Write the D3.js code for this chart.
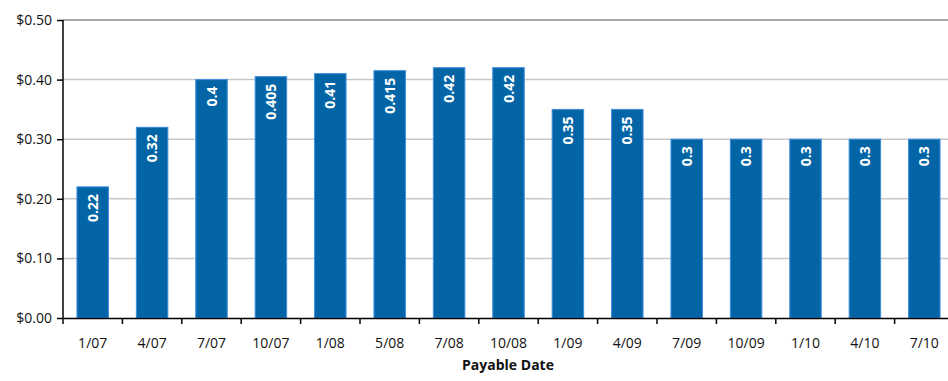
<!DOCTYPE html>
<html>
<head>
<meta charset="utf-8">
<script src="https://cdn.jsdelivr.net/npm/d3@7"></script>
<style>
  body { margin: 0; background: #fff; }
  svg { display: block; font-family: "Open Sans", "Noto Sans", sans-serif; }
</style>
</head>
<body>
<svg id="chart" width="948" height="381"></svg>
<script>
// payable dates and dividend per share
var dates = ["1/07", "4/07", "7/07", "10/07", "1/08", "5/08", "7/08", "10/08",
             "1/09", "4/09", "7/09", "10/09", "1/10", "4/10", "7/10"];
var dividends = [0.22, 0.32, 0.4, 0.405, 0.41, 0.415, 0.42, 0.42,
                 0.35, 0.35, 0.3, 0.3, 0.3, 0.3, 0.3];
var barLabels = ["0.22", "0.32", "0.4", "0.405", "0.41", "0.415", "0.42", "0.42",
                 "0.35", "0.35", "0.3", "0.3", "0.3", "0.3", "0.3"];
var yTicks = [0, 0.1, 0.2, 0.3, 0.4, 0.5];

var margin = {top: 20, left: 63},
    width = 891,
    height = 298;

var svg = d3.select("#chart")
    .append("g")
    .attr("transform", "translate(" + margin.left + "," + margin.top + ")");

var x = d3.scaleBand()
    .domain(dates)
    .range([0, width])
    .paddingInner(0.47)
    .paddingOuter(0.235);

var y = d3.scaleLinear()
    .domain([0, 0.5])
    .range([height, 0]);

// gridlines
svg.selectAll(".grid")
    .data(yTicks.slice(1))
    .enter().append("line")
    .attr("x1", 0)
    .attr("x2", width)
    .attr("y1", function(d) { return y(d); })
    .attr("y2", function(d) { return y(d); })
    .attr("stroke", function(d) { return d === 0.5 ? "#8c8c8c" : "#c8c8c8"; })
    .attr("stroke-width", 1.5);

// bars
svg.selectAll(".bar")
    .data(dividends)
    .enter().append("rect")
    .attr("class", "bar")
    .attr("x", function(d, i) { return x(dates[i]); })
    .attr("width", x.bandwidth())
    .attr("y", function(d) { return y(d); })
    .attr("height", function(d) { return height - y(d); })
    .attr("fill", "#0465a6")
    .attr("stroke", "#3e8de0")
    .attr("stroke-width", 1);

// value labels inside bars
svg.selectAll(".lbl")
    .data(dividends)
    .enter().append("text")
    .attr("transform", function(d, i) {
        return "translate(" + (x(dates[i]) + x.bandwidth() / 2 + 5) + "," + (y(d) + 7) + ") rotate(-90)";
    })
    .attr("text-anchor", "end")
    .attr("fill", "#fff")
    .attr("font-weight", "bold")
    .attr("font-size", "14px")
    .text(function(d, i) { return barLabels[i]; });

// x axis
var xAxis = svg.append("g")
    .attr("transform", "translate(0," + height + ")")
    .call(d3.axisBottom(x).tickSize(0).tickPadding(20));
xAxis.select(".domain").attr("stroke", "#000").attr("stroke-width", 1.5);
xAxis.selectAll("text").attr("font-size", "14px").attr("fill", "#111").attr("font-family", "Open Sans, sans-serif");
// tick marks between categories
xAxis.selectAll(".sep")
    .data(dates)
    .enter().append("line")
    .attr("x1", function(d) { return x(d) - x.step() * x.paddingOuter(); })
    .attr("x2", function(d) { return x(d) - x.step() * x.paddingOuter(); })
    .attr("y1", 0)
    .attr("y2", 6)
    .attr("stroke", "#000")
    .attr("stroke-width", 1.5);

// y axis
var yAxis = svg.append("g")
    .call(d3.axisLeft(y).tickValues(yTicks).tickSize(6).tickPadding(5)
        .tickFormat(function(d) { return "$" + d.toFixed(2); }));
yAxis.select(".domain").attr("stroke", "#000").attr("stroke-width", 1.5).attr("d", "M0," + height + "V0");
yAxis.selectAll(".tick line").attr("stroke", "#000").attr("stroke-width", 1.5);
yAxis.selectAll("text").attr("font-size", "14px").attr("fill", "#111").attr("font-family", "Open Sans, sans-serif");

// axis title
svg.append("text")
    .attr("x", 445)
    .attr("y", height + 52)
    .attr("text-anchor", "middle")
    .attr("font-weight", "bold")
    .attr("font-size", "14px")
    .attr("fill", "#111")
    .text("Payable Date");
</script>
</body>
</html>
